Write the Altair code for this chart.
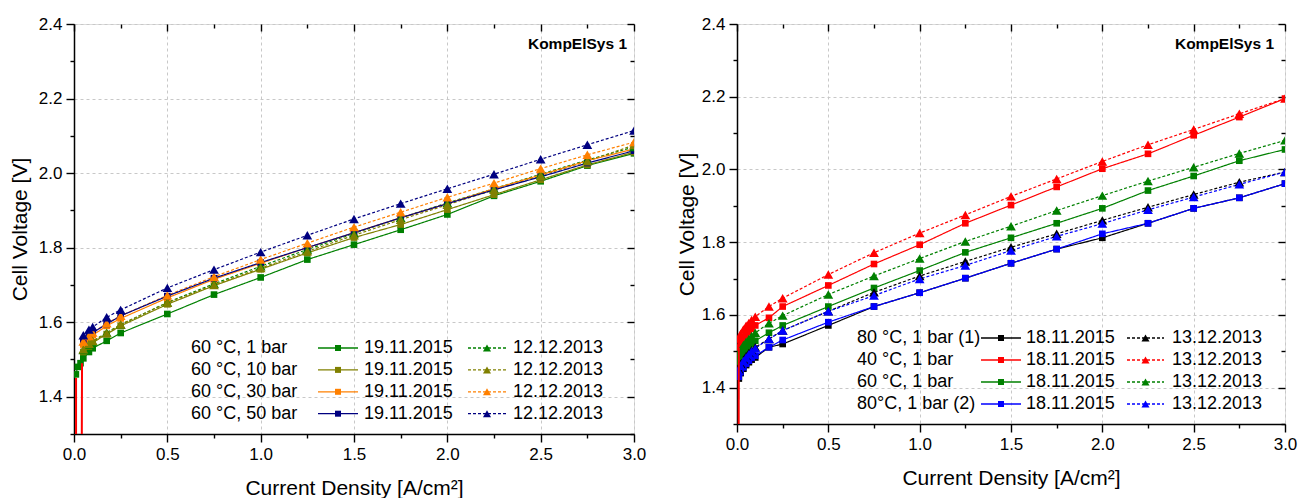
import altair as alt
import pandas as pd

FONT = "Liberation Sans"

# ---------------- Left panel data ----------------
L_conds = ["60 °C, 1 bar", "60 °C, 10 bar", "60 °C, 30 bar", "60 °C, 50 bar"]
L_colors = ["#008000", "#808000", "#ff8000", "#000080"]
L_dates = ["19.11.2015", "12.12.2013"]

L_x_green_2015 = [0.01, 0.02, 0.035, 0.05, 0.08, 0.1, 0.175, 0.25, 0.5, 0.75, 1.0,
                  1.25, 1.5, 1.75, 2.0, 2.25, 2.5, 2.75, 3.0]
L_x = [0.05, 0.08, 0.1, 0.175, 0.25, 0.5, 0.75, 1.0, 1.25, 1.5, 1.75, 2.0, 2.25,
       2.5, 2.75, 3.0]

L_green_2015 = [1.46, 1.48, 1.49, 1.503, 1.52, 1.53, 1.55, 1.571, 1.622, 1.674, 1.72,
                1.768, 1.808, 1.848, 1.889, 1.939, 1.978, 2.02, 2.053]
L_green_2013 = [1.525, 1.54, 1.548, 1.572, 1.593, 1.653, 1.703, 1.75, 1.795, 1.838,
                1.88, 1.92, 1.958, 1.997, 2.035, 2.07]
L_olive_2015 = [1.52, 1.535, 1.545, 1.568, 1.59, 1.648, 1.698, 1.742, 1.786, 1.827,
                1.862, 1.902, 1.942, 1.982, 2.022, 2.056]
L_olive_2013 = [1.527, 1.542, 1.55, 1.57, 1.594, 1.652, 1.70, 1.745, 1.79, 1.833,
                1.875, 1.915, 1.955, 1.993, 2.032, 2.075]
L_orange_2015 = [1.54, 1.555, 1.565, 1.59, 1.61, 1.665, 1.715, 1.758, 1.80, 1.84,
                 1.88, 1.918, 1.958, 1.995, 2.033, 2.065]
L_orange_2013 = [1.548, 1.563, 1.572, 1.597, 1.617, 1.672, 1.722, 1.768, 1.812, 1.855,
                 1.895, 1.935, 1.973, 2.012, 2.049, 2.083]
L_navy_2015 = [1.55, 1.565, 1.572, 1.595, 1.617, 1.67, 1.718, 1.76, 1.80, 1.84,
               1.88, 1.918, 1.955, 1.99, 2.027, 2.06]
L_navy_2013 = [1.565, 1.58, 1.587, 1.613, 1.633, 1.692, 1.741, 1.788, 1.833, 1.877,
               1.918, 1.958, 1.997, 2.037, 2.076, 2.114]

L_red_x = [0.011, 0.011, 0.04, 0.043]
L_red_y = [1.45, 1.0, 1.0, 1.49]

# ---------------- Right panel data ----------------
R_conds = ["80 °C, 1 bar (1)", "40 °C, 1 bar", "60 °C, 1 bar", "80°C, 1 bar (2)"]
R_colors = ["#000000", "#ff0000", "#008000", "#0000ff"]
R_dates = ["18.11.2015", "13.12.2013"]

R_x = [0.01, 0.02, 0.035, 0.05, 0.065, 0.08, 0.1, 0.175, 0.25, 0.5, 0.75, 1.0,
       1.25, 1.5, 1.75, 2.0, 2.25, 2.5, 2.75, 3.0]

R_black_2015 = [1.425, 1.44, 1.452, 1.462, 1.47, 1.477, 1.483, 1.511, 1.52, 1.571,
                1.623, 1.661, 1.701, 1.742, 1.781, 1.812, 1.852, 1.893, 1.922, 1.961]
R_black_2013 = [1.45, 1.465, 1.477, 1.487, 1.495, 1.503, 1.511, 1.534, 1.557, 1.610,
                1.662, 1.707, 1.747, 1.786, 1.823, 1.860, 1.896, 1.931, 1.965, 1.993]
R_red_2015 = [1.51, 1.525, 1.536, 1.545, 1.553, 1.562, 1.571, 1.592, 1.623, 1.681,
              1.740, 1.793, 1.852, 1.902, 1.952, 2.002, 2.043, 2.094, 2.144, 2.195]
R_red_2013 = [1.535, 1.548, 1.56, 1.57, 1.578, 1.586, 1.595, 1.623, 1.646, 1.711,
              1.771, 1.825, 1.875, 1.926, 1.974, 2.022, 2.068, 2.110, 2.153, 2.195]
R_green_2015 = [1.47, 1.485, 1.496, 1.505, 1.513, 1.521, 1.529, 1.551, 1.571, 1.623,
                1.674, 1.722, 1.772, 1.812, 1.852, 1.893, 1.942, 1.982, 2.024, 2.055]
R_green_2013 = [1.49, 1.505, 1.517, 1.526, 1.534, 1.542, 1.551, 1.577, 1.598, 1.656,
                1.707, 1.755, 1.802, 1.844, 1.887, 1.928, 1.968, 2.006, 2.044, 2.080]
R_blue_2015 = [1.43, 1.445, 1.456, 1.466, 1.474, 1.482, 1.488, 1.511, 1.531, 1.580,
               1.623, 1.661, 1.701, 1.742, 1.781, 1.823, 1.852, 1.893, 1.922, 1.961]
R_blue_2013 = [1.445, 1.46, 1.473, 1.483, 1.492, 1.50, 1.508, 1.534, 1.557, 1.610,
               1.653, 1.699, 1.736, 1.777, 1.816, 1.851, 1.889, 1.924, 1.959, 1.993]

R_red_x = [0.008, 0.01]
R_red_y = [1.0, 1.51]

X_MAJOR = [0.0, 0.5, 1.0, 1.5, 2.0, 2.5, 3.0]
X_MINOR = [0.25, 0.75, 1.25, 1.75, 2.25, 2.75]
Y_MAJOR = [1.4, 1.6, 1.8, 2.0, 2.2, 2.4]
Y_MINOR = [1.3, 1.5, 1.7, 1.9, 2.1, 2.3]


def build_df(conds, colors, dates, series):
    rows = []
    for cond, col, (xa, ya, xb, yb) in zip(conds, colors, series):
        for x, y in zip(xa, ya):
            rows.append({"x": x, "y": y, "cond": cond, "col": col, "date": dates[0]})
        for x, y in zip(xb, yb):
            rows.append({"x": x, "y": y, "cond": cond, "col": col, "date": dates[1]})
    return pd.DataFrame(rows)


def panel(df, conds, colors, dates, red_x, red_y, W, H, lay, tag_dx, ytp):
    xs = alt.Scale(domain=[0, 3], nice=False, zero=False)
    ys = alt.Scale(domain=[1.3, 2.4], nice=False, zero=False)
    tick_common = dict(tickColor="black", tickWidth=1.4, labelColor="black",
                       labelFont=FONT, titleFont=FONT, titleColor="black",
                       titleFontWeight="normal", labelFlush=False)
    ax_b_major = alt.Axis(orient="bottom", values=X_MAJOR, format=".1f",
                          title="Current Density [A/cm²]", grid=True,
                          gridDash=[3, 3], gridColor="#c8c8c8", gridWidth=1,
                          tickSize=8, domainColor="black", domainWidth=1.5,
                          labelFontSize=17, titleFontSize=21, labelPadding=4,
                          titlePadding=15, **tick_common)
    ax_b_minor = alt.Axis(orient="bottom", values=X_MINOR, labels=False, grid=False,
                          domain=False, tickSize=4, title=None, **tick_common)
    ax_t_major = alt.Axis(orient="top", values=X_MAJOR, labels=False, grid=False,
                          domain=False, tickSize=7, offset=-7, title=None, **tick_common)
    ax_t_minor = alt.Axis(orient="top", values=X_MINOR, labels=False, grid=False,
                          domain=False, tickSize=4, offset=-4, title=None, **tick_common)
    ax_l_major = alt.Axis(orient="left", values=Y_MAJOR, format=".1f",
                          title="Cell Voltage [V]", grid=True, gridDash=[3, 3],
                          gridColor="#c8c8c8", gridWidth=1, tickSize=8,
                          domainColor="black", domainWidth=1.5, labelFontSize=17,
                          titleFontSize=21, labelPadding=4, titlePadding=ytp,
                          **tick_common)
    ax_l_minor = alt.Axis(orient="left", values=Y_MINOR, labels=False, grid=False,
                          domain=False, tickSize=4, title=None, **tick_common)
    ax_r_major = alt.Axis(orient="right", values=Y_MAJOR, labels=False, grid=False,
                          domain=False, tickSize=7, offset=-7, title=None, **tick_common)
    ax_r_minor = alt.Axis(orient="right", values=Y_MINOR, labels=False, grid=False,
                          domain=False, tickSize=4, offset=-4, title=None, **tick_common)

    color = alt.Color("col:N", scale=None, legend=None)
    dash = alt.StrokeDash("date:N", scale=alt.Scale(domain=dates, range=[[1, 0], [3, 2]]),
                          legend=None)
    base = alt.Chart(df)
    lines = base.mark_line(strokeWidth=1.2, clip=True).encode(
        x=alt.X("x:Q", scale=xs, axis=ax_b_major),
        y=alt.Y("y:Q", scale=ys, axis=ax_l_major),
        color=color, strokeDash=dash, detail="cond:N")
    squares = base.transform_filter(alt.datum.date == dates[0]).mark_point(
        shape="square", filled=True, size=44, opacity=1, clip=True).encode(
        x=alt.X("x:Q", scale=xs, axis=ax_b_minor),
        y=alt.Y("y:Q", scale=ys, axis=ax_l_minor),
        color=color)
    tris = base.transform_filter(alt.datum.date == dates[1]).mark_point(
        shape="triangle-up", filled=True, size=95, opacity=1, clip=True).encode(
        x=alt.X("x:Q", scale=xs, axis=ax_t_major),
        y=alt.Y("y:Q", scale=ys, axis=ax_r_major),
        color=color)
    red_df = pd.DataFrame({"x": red_x, "y": red_y, "i": list(range(len(red_x)))})
    red = alt.Chart(red_df).mark_line(color="#ff0000", strokeWidth=2, clip=True).encode(
        x=alt.X("x:Q", scale=xs, axis=ax_t_minor),
        y=alt.Y("y:Q", scale=ys, axis=ax_r_minor),
        order="i:Q")

    # legend (drawn inside the plot)
    n = len(conds)
    ldf = pd.DataFrame({"cond": conds, "color": colors, "d1": [dates[0]] * n,
                        "d2": [dates[1]] * n, "row": list(range(n))})
    lb = alt.Chart(ldf).transform_calculate(py=f"{lay['y0']} + datum.row * {lay['dy']}")
    Y = alt.Y("py:Q", scale=None, axis=None)
    C = alt.Color("color:N", scale=None, legend=None)
    txt = dict(align="left", baseline="middle", fontSize=18, font=FONT, color="black")
    leg = [
        lb.mark_text(**txt).encode(x=alt.value(lay["cx"]), y=Y, text="cond:N"),
        lb.mark_rule(strokeWidth=1.3).encode(x=alt.value(lay["l1a"]), x2=alt.value(lay["l1b"]),
                                             y=Y, color=C),
        lb.mark_point(shape="square", filled=True, size=36, opacity=1).encode(
            x=alt.value((lay["l1a"] + lay["l1b"]) / 2), y=Y, color=C),
        lb.mark_text(**txt).encode(x=alt.value(lay["d1x"]), y=Y, text="d1:N"),
        lb.mark_rule(strokeWidth=1.3, strokeDash=[3, 2]).encode(
            x=alt.value(lay["l2a"]), x2=alt.value(lay["l2b"]), y=Y, color=C),
        lb.mark_point(shape="triangle-up", filled=True, size=65, opacity=1).encode(
            x=alt.value((lay["l2a"] + lay["l2b"]) / 2), y=Y, color=C),
        lb.mark_text(**txt).encode(x=alt.value(lay["d2x"]), y=Y, text="d2:N"),
    ]
    tag = alt.Chart(pd.DataFrame({"t": ["KompElSys 1"]})).mark_text(
        align="right", baseline="middle", fontSize=15.5, fontWeight="bold", font=FONT,
        color="black").encode(x=alt.value(W - tag_dx), y=alt.value(20), text="t:N")

    return alt.layer(lines, squares, tris, red, *leg, tag).resolve_axis(
        x="independent", y="independent").properties(width=W, height=H)


L_series = [
    (L_x_green_2015, L_green_2015, L_x, L_green_2013),
    (L_x, L_olive_2015, L_x, L_olive_2013),
    (L_x, L_orange_2015, L_x, L_orange_2013),
    (L_x, L_navy_2015, L_x, L_navy_2013),
]
R_series = [
    (R_x, R_black_2015, R_x, R_black_2013),
    (R_x, R_red_2015, R_x, R_red_2013),
    (R_x, R_green_2015, R_x, R_green_2013),
    (R_x, R_blue_2015, R_x, R_blue_2013),
]

L_lay = dict(y0=324, dy=21.9, cx=117, l1a=244, l1b=284, d1x=290, l2a=394, l2b=432, d2x=439)
R_lay = dict(y0=314, dy=22, cx=120, l1a=244, l1b=284, d1x=289, l2a=390, l2b=427, d2x=435)

left = panel(build_df(L_conds, L_colors, L_dates, L_series), L_conds, L_colors, L_dates,
             L_red_x, L_red_y, 560, 410, L_lay, 7, 8)
right = panel(build_df(R_conds, R_colors, R_dates, R_series), R_conds, R_colors, R_dates,
              R_red_x, R_red_y, 548, 400, R_lay, 11, 4)

chart = alt.hconcat(left, right, spacing=28).properties(
    padding={"left": 8, "top": 14, "right": 5, "bottom": 0}
).configure_view(stroke="black", strokeWidth=1.5).configure(background="white")

chart.save("out.html", embed_options={"renderer": "svg", "actions": False})
